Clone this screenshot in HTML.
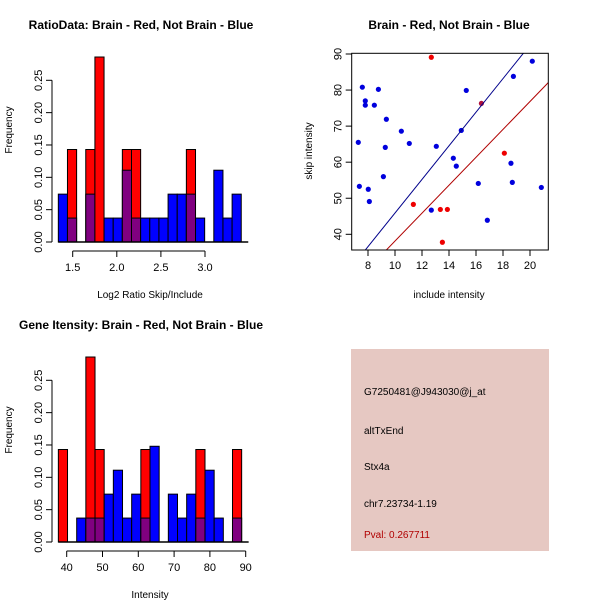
<!DOCTYPE html>
<html><head><meta charset="utf-8"><style>
body{margin:0;background:#fff}
svg text{font-family:"Liberation Sans",sans-serif}
</style></head><body>
<svg id="s" width="600" height="600" xmlns="http://www.w3.org/2000/svg">
<rect width="600" height="600" fill="#fff"/>
<text x="141" y="29" font-size="12" font-weight="bold" text-anchor="middle">RatioData: Brain - Red, Not Brain - Blue</text>
<text x="449" y="29" font-size="12" font-weight="bold" text-anchor="middle">Brain - Red, Not Brain - Blue</text>
<text x="141" y="329" font-size="12" font-weight="bold" text-anchor="middle">Gene Itensity: Brain - Red, Not Brain - Blue</text>
<g id="h1"></g>
<g id="h2"></g>
<g id="sc"></g>
<g>
<rect x="351" y="349" width="198" height="202" fill="#e6c8c2"/>
<text x="364" y="395" font-size="10">G7250481@J943030@j_at</text>
<text x="364" y="434" font-size="10">altTxEnd</text>
<text x="364" y="470" font-size="10">Stx4a</text>
<text x="364" y="507" font-size="10">chr7.23734-1.19</text>
<text x="364" y="538" font-size="10" fill="#b00000">Pval: 0.267711</text>
</g>
</svg>
<script>
const ratioBlue=[0.074,0.037,0,0.074,0,0.037,0.037,0.111,0.037,0.037,0.037,0.037,0.074,0.074,0.074,0.037,0,0.111,0.037,0.074];
const ratioRed=[0,0.143,0,0.143,0.286,0,0,0.143,0.143,0,0,0,0,0,0.143,0,0,0,0,0];
const ratioBreakStart=1.337, ratioBreakWidth=0.1037;
const ratioTicks=[1.5,2.0,2.5,3.0];
const intBlue=[0,0,0.037,0.037,0.037,0.074,0.111,0.037,0.074,0.037,0.148,0,0.074,0.037,0.074,0.037,0.111,0.037,0,0.037];
const intRed=[0.143,0,0,0.286,0.143,0,0,0,0,0.143,0,0,0,0,0,0.143,0,0,0,0.143];
const intBreakStart=37.67, intBreakWidth=2.56;
const intTicks=[40,50,60,70,80,90];
const freqTicks=["0.00","0.05","0.10","0.15","0.20","0.25"];
const blueX=[7.58,8.77,7.8,7.8,8.47,9.36,7.28,9.28,10.47,11.06,9.14,7.36,8.02,8.1,13.06,15.28,14.91,14.32,14.54,12.69,16.17,16.84,18.59,18.69,18.77,20.17,20.84];
const blueY=[80.8,80.2,77.0,75.8,75.8,71.9,65.5,64.1,68.6,65.2,56.0,53.3,52.5,49.1,64.4,79.9,68.8,61.1,58.9,46.7,54.1,43.9,59.7,54.4,83.8,88.0,53.0];
const redX=[12.69,11.36,13.36,13.88,13.51,18.1,16.4];
const redY=[89.1,48.3,46.9,46.9,37.8,62.5,76.3];
const blueLine=[-0.7,4.66];
const redLine=[-0.57,3.87];
const scXTicks=[8,10,12,14,16,18,20];
const scYTicks=[40,50,60,70,80,90];

const NS="http://www.w3.org/2000/svg";
function mk(p,t,a){const e=document.createElementNS(NS,t);for(const k in a)e.setAttribute(k,a[k]);p.appendChild(e);return e;}

function hist(g,top,blue,red,b0,bw,ticks,xA,xB,xlabel){
  const y0=top+202, k=(202-40.3)/0.25;
  const X=v=>xA.p+(v-xA.v)*(xB.p-xA.p)/(xB.v-xA.v);
  const Y=v=>y0-v*k;
  for(let i=0;i<blue.length;i++){
    const l=X(b0+i*bw), r=X(b0+(i+1)*bw), w=r-l;
    const m=Math.min(blue[i],red[i]);
    if(red[i]>0){const e=mk(g,'rect',{x:l,y:Y(red[i]),width:w,height:y0-Y(red[i]),fill:'#ff0000',stroke:'#000','stroke-width':1});
      }
    if(blue[i]>0){const e=mk(g,'rect',{x:l,y:Y(blue[i]),width:w,height:y0-Y(blue[i]),fill:m>0?'#800080':'#0000ff',stroke:'#000','stroke-width':1});
      }
  }
  const ax=52;
  let e=mk(g,'line',{x1:ax,y1:y0,x2:ax,y2:Y(0.25),stroke:'#000'});
  
  freqTicks.forEach(t=>{const v=parseFloat(t),y=Y(v);
    mk(g,'line',{x1:ax-6,y1:y,x2:ax,y2:y,stroke:'#000'});
    const tx=mk(g,'text',{x:0,y:0,'font-size':11,'text-anchor':'middle',transform:`translate(${ax-10},${y}) rotate(-90)`});
    tx.textContent=t;});
  const yl=mk(g,'text',{x:0,y:0,'font-size':10,'text-anchor':'middle',transform:`translate(12,${top+90}) rotate(-90)`});
  yl.textContent='Frequency';
  const bl=mk(g,'line',{x1:X(b0),y1:y0,x2:X(b0+blue.length*bw)+7,y2:y0,stroke:'#000','stroke-width':1.5});
  
  const xa=top+211;
  e=mk(g,'line',{x1:X(ticks[0]),y1:xa,x2:X(ticks[ticks.length-1]),y2:xa,stroke:'#000'});
  
  ticks.forEach(t=>{const x=X(t);mk(g,'line',{x1:x,y1:xa,x2:x,y2:xa+6,stroke:'#000'});
    const tx=mk(g,'text',{x:x,y:xa+20,'font-size':11,'text-anchor':'middle'});
    tx.textContent=(t%1===0&&t<10)?t.toFixed(1):String(t);});
  const xl=mk(g,'text',{x:150,y:top+258,'font-size':10,'text-anchor':'middle'});
  xl.textContent=xlabel;
}
hist(document.getElementById('h1'),40,ratioBlue,ratioRed,ratioBreakStart,ratioBreakWidth,ratioTicks,{v:1.5,p:72.7},{v:3.0,p:205},'Log2 Ratio Skip/Include');
hist(document.getElementById('h2'),340,intBlue,intRed,intBreakStart,intBreakWidth,intTicks,{v:40,p:66.7},{v:90,p:245.7},'Intensity');

(function(){
  const g=document.getElementById('sc');
  const L=351.7,R=548.3,T=53.3,B=250;
  const X=v=>368+(v-8)*13.5, Y=v=>54+(90-v)*3.606;
  const cp=mk(g,'clipPath',{id:'cp'});mk(cp,'rect',{x:L,y:T,width:R-L,height:B-T});
  function line(p,c,n){const x1=7,x2=22;const e=mk(g,'line',{x1:X(x1),y1:Y(p[0]+p[1]*x1),x2:X(x2),y2:Y(p[0]+p[1]*x2),stroke:c,'clip-path':'url(#cp)'});
    }
  blueX.forEach((x,i)=>{const e=mk(g,'circle',{cx:X(x),cy:Y(blueY[i]),r:2.6,fill:'#0000dd'});
    });
  redX.forEach((x,i)=>{const e=mk(g,'circle',{cx:X(x),cy:Y(redY[i]),r:2.6,fill:i===6?'#b0103a':'#ee0000'});
    });
  line(blueLine,'#00008b','blue-fit-line');
  line(redLine,'#b00000','red-fit-line');
  const f=mk(g,'rect',{x:L,y:T,width:R-L,height:B-T,fill:'none',stroke:'#000'});
  
  scXTicks.forEach(t=>{const x=X(t);mk(g,'line',{x1:x,y1:B,x2:x,y2:B+6,stroke:'#000'});
    const tx=mk(g,'text',{x:x,y:B+19,'font-size':11,'text-anchor':'middle'});tx.textContent=t;
    });
  scYTicks.forEach(t=>{const y=Y(t);mk(g,'line',{x1:L-6,y1:y,x2:L,y2:y,stroke:'#000'});
    const tx=mk(g,'text',{x:0,y:0,'font-size':11,'text-anchor':'middle',transform:`translate(${L-10},${y}) rotate(-90)`});tx.textContent=t;
    });
  const xl=mk(g,'text',{x:449,y:298,'font-size':10,'text-anchor':'middle'});xl.textContent='include intensity';
  
  const yl=mk(g,'text',{x:0,y:0,'font-size':10,'text-anchor':'middle',transform:'translate(312,151) rotate(-90)'});yl.textContent='skip intensity';
  
})();
</script>
</body></html>
